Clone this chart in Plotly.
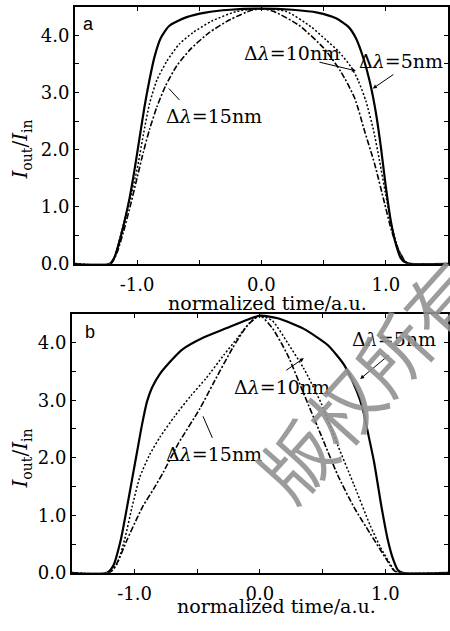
import plotly.graph_objects as go

W, H = 450, 631

# ---------------- data ----------------
# panel a
x5a = [-1.5, -1.22, -1.18, -1.14, -1.10, -1.06, -1.02, -0.98, -0.94, -0.90, -0.86, -0.81, -0.74, -0.60, -0.45, -0.25, 0.0,
       0.25, 0.45, 0.60, 0.70, 0.76, 0.82, 0.87, 0.92, 0.96, 1.00, 1.04, 1.08, 1.12, 1.16, 1.20, 1.5]
y5a = [0, 0, 0.12, 0.40, 0.75, 1.15, 1.65, 2.20, 2.75, 3.22, 3.62, 3.95, 4.17, 4.32, 4.40, 4.45, 4.47,
       4.45, 4.40, 4.30, 4.15, 3.95, 3.60, 3.20, 2.65, 2.05, 1.35, 0.75, 0.35, 0.10, 0.02, 0, 0]

x10a = [-1.5, -1.21, -1.17, -1.12, -1.06, -1.00, -0.95, -0.90, -0.84, -0.76, -0.66, -0.55, -0.40, -0.20, 0.0,
        0.20, 0.40, 0.52, 0.62, 0.72, 0.78, 0.84, 0.90, 0.95, 1.00, 1.05, 1.10, 1.15, 1.19, 1.5]
y10a = [0, 0, 0.20, 0.60, 1.10, 1.65, 2.25, 2.80, 3.22, 3.55, 3.85, 4.05, 4.25, 4.42, 4.47,
        4.42, 4.15, 3.92, 3.72, 3.45, 3.20, 2.85, 2.35, 1.80, 1.20, 0.65, 0.26, 0.05, 0, 0]

x15a = [-1.5, -1.21, -1.16, -1.11, -1.05, -1.00, -0.95, -0.90, -0.84, -0.77, -0.68, -0.57, -0.42, -0.25, -0.08, 0.0,
        0.10, 0.30, 0.50, 0.64, 0.75, 0.83, 0.91, 0.99, 1.05, 1.10, 1.15, 1.19, 1.5]
y15a = [0, 0, 0.20, 0.55, 1.05, 1.50, 1.95, 2.35, 2.75, 3.12, 3.47, 3.76, 4.05, 4.28, 4.44, 4.47,
        4.42, 4.18, 3.78, 3.36, 2.90, 2.32, 1.75, 1.06, 0.55, 0.26, 0.06, 0, 0]

# panel b
x5b = [-1.5, -1.22, -1.17, -1.11, -1.06, -1.02, -0.98, -0.94, -0.90, -0.86, -0.80, -0.72, -0.62, -0.45, -0.27, -0.10, 0.0,
       0.15, 0.35, 0.54, 0.67, 0.77, 0.82, 0.86, 0.91, 0.97, 1.02, 1.06, 1.10, 1.14, 1.5]
y5b = [0, 0, 0.12, 0.57, 1.14, 1.62, 2.10, 2.58, 2.98, 3.22, 3.45, 3.66, 3.88, 4.09, 4.25, 4.40, 4.47,
       4.42, 4.24, 3.96, 3.62, 3.17, 2.85, 2.45, 1.93, 1.14, 0.57, 0.25, 0.05, 0, 0]

x10b = [-1.5, -1.20, -1.14, -1.08, -1.02, -0.96, -0.88, -0.80, -0.68, -0.55, -0.43, -0.29, -0.18, -0.08, 0.0,
        0.10, 0.22, 0.35, 0.49, 0.62, 0.75, 0.88, 0.96, 1.02, 1.07, 1.11, 1.5]
y10b = [0, 0, 0.15, 0.57, 1.14, 1.65, 2.05, 2.35, 2.72, 3.08, 3.38, 3.78, 4.08, 4.35, 4.47,
        4.38, 4.00, 3.55, 2.94, 2.22, 1.53, 0.82, 0.45, 0.22, 0.05, 0, 0]

x15b = [-1.5, -1.20, -1.14, -1.06, -0.98, -0.93, -0.85, -0.77, -0.65, -0.48, -0.37, -0.22, -0.10, 0.0,
        0.10, 0.22, 0.35, 0.49, 0.62, 0.75, 0.88, 0.96, 1.01, 1.06, 1.10, 1.5]
y15b = [0, 0, 0.17, 0.57, 0.95, 1.17, 1.45, 1.75, 2.25, 2.85, 3.30, 3.90, 4.30, 4.47,
        4.25, 3.79, 3.11, 2.38, 1.70, 1.14, 0.68, 0.40, 0.23, 0.06, 0, 0]

labels = ["Δ<i>λ</i>=5nm", "Δ<i>λ</i>=10nm", "Δ<i>λ</i>=15nm"]
x_tick_vals = [-1.0, 0.0, 1.0]
x_tick_text = ["-1.0", "0.0", "1.0"]
y_tick_vals = [0, 1, 2, 3, 4]
y_tick_text = ["0.0", "1.0", "2.0", "3.0", "4.0"]
x_title = "normalized time/a.u."
y_title = "<i>I</i><sub>out</sub>/<i>I</i><sub>in</sub>"
panel_names = ["a", "b"]
watermark = "版权所有"

SERIF = "DejaVu Serif"

def px(x):
    return x / W

def py(y):
    return 1 - y / H

styles = [dict(width=2.2, dash="solid"),
          dict(width=1.5, dash="2px,2px"),
          dict(width=1.6, dash="6px,2px,2px,2px")]

fig = go.Figure()
series = [
    ("x", "y", [(x5a, y5a), (x10a, y10a), (x15a, y15a)]),
    ("x2", "y2", [(x5b, y5b), (x10b, y10b), (x15b, y15b)]),
]
for xa, ya, sets in series:
    for (xs, ys), st, lab in zip(sets, styles, labels):
        fig.add_trace(go.Scatter(x=xs, y=ys, xaxis=xa, yaxis=ya, mode="lines",
                                 line=dict(color="black", width=st["width"], dash=st["dash"],
                                           shape="spline", smoothing=0.6),
                                 name=lab, showlegend=False, hoverinfo="skip"))

def xax(domain, anchor):
    return dict(domain=domain, anchor=anchor, range=[-1.5, 1.5],
                tickvals=x_tick_vals, ticktext=x_tick_text,
                ticks="inside", ticklen=4, tickwidth=1, tickcolor="black",
                minor=dict(tickvals=[-0.5, 0.5], ticks="inside", ticklen=4, tickcolor="black"),
                showline=True, linecolor="black", linewidth=1.5, mirror="ticks",
                showgrid=False, zeroline=False, ticklabelstandoff=4,
                tickfont=dict(family=SERIF, size=18, color="black"))

def yax(domain, anchor):
    return dict(domain=domain, anchor=anchor, range=[0, 4.5],
                tickvals=y_tick_vals, ticktext=y_tick_text,
                ticks="inside", ticklen=4, tickwidth=1, tickcolor="black",
                minor=dict(tickvals=[0.5, 1.5, 2.5, 3.5], ticks="inside", ticklen=4, tickcolor="black"),
                showline=True, linecolor="black", linewidth=1.5, mirror="ticks",
                showgrid=False, zeroline=False,
                tickfont=dict(family=SERIF, size=18, color="black"))

fig.update_layout(
    width=W, height=H,
    margin=dict(l=0, r=0, t=0, b=0),
    paper_bgcolor="white", plot_bgcolor="white",
    xaxis=xax([px(75), px(449)], "y"),
    yaxis=yax([py(268), py(7)], "x"),
    xaxis2=xax([px(72), px(449)], "y2"),
    yaxis2=yax([py(582), py(319)], "x2"),
)

ann = []
tf = dict(family=SERIF, size=19, color="black")
# axis titles
ann.append(dict(x=px(268), y=py(308), text=x_title, font=tf))
ann.append(dict(x=px(277), y=py(616), text=x_title, font=tf))
ann.append(dict(x=px(21), y=py(152), text=y_title, textangle=-90, font=dict(family=SERIF, size=20, color="black")))
ann.append(dict(x=px(21), y=py(466), text=y_title, textangle=-90, font=dict(family=SERIF, size=20, color="black")))
# panel letters
ann.append(dict(x=px(89), y=py(24), text=panel_names[0], font=dict(family="Liberation Sans", size=18, color="black")))
ann.append(dict(x=px(90), y=py(337), text=panel_names[1], font=dict(family="Liberation Sans", size=18, color="black")))
# curve labels
for (cx, cy, t) in [(402, 62, labels[0]), (293, 54, labels[1]), (214, 118, labels[2]),
                    (395, 344, labels[0]), (283, 393, labels[1]), (214, 461, labels[2])]:
    ann.append(dict(x=px(cx), y=py(cy), text=t, font=tf))
ann = [dict(a, xref="paper", yref="paper", showarrow=False, xanchor="center", yanchor="middle") for a in ann]

# arrows (head at the curve, tail offset in pixels)
arrows = [
    ("x", "y", 0.896, 3.07, 22, -15, 2),
    ("x", "y", 0.76, 3.38, -38, -9, 2),
    ("x", "y", -0.744, 3.07, 12, 13, 0),
    ("x2", "y2", 0.80, 3.37, 30, -25, 2),
    ("x2", "y2", 0.35, 3.73, -19, 13, 2),
    ("x2", "y2", -0.454, 2.72, 10, 23, 0),
]
for xr, yr, hx, hy, ax, ay, head in arrows:
    ann.append(dict(xref=xr, yref=yr, x=hx, y=hy, ax=ax, ay=ay, text="",
                    showarrow=True, arrowhead=head, arrowsize=0.8, arrowwidth=1, arrowcolor="black"))

# watermark
ann.append(dict(xref="paper", yref="paper", x=px(368), y=py(385), text=watermark, showarrow=False,
                textangle=-48,
                font=dict(family="Noto Sans CJK SC", size=72, color="rgba(145,145,145,0.9)"),
                xanchor="center", yanchor="middle"))

fig.update_layout(annotations=ann)
fig.write_html("out.html", config={"displayModeBar": False},
               post_script="document.body.style.margin='0';document.body.style.overflow='hidden';")
